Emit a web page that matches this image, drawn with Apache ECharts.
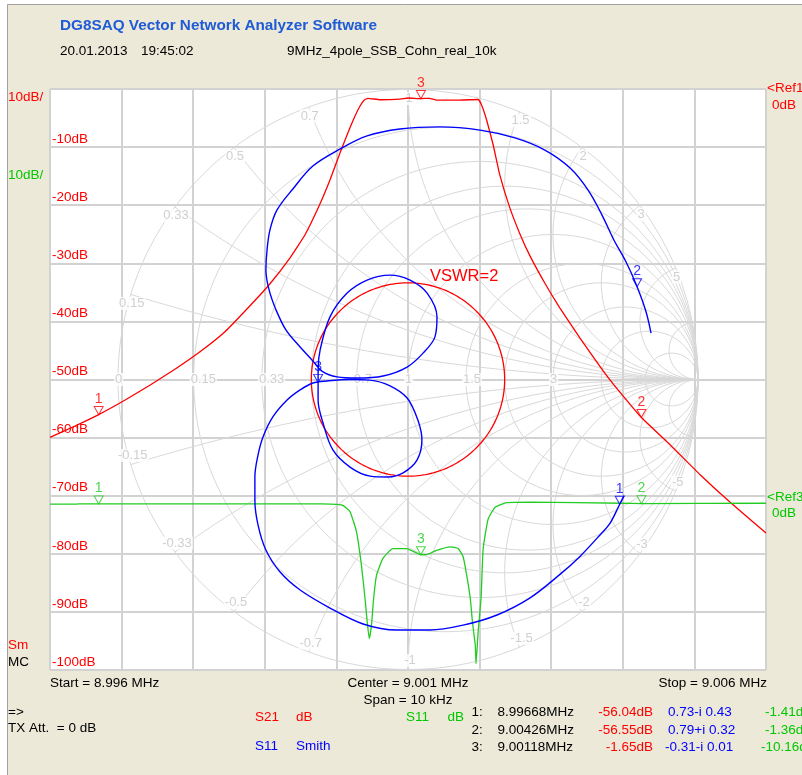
<!DOCTYPE html>
<html>
<head>
<meta charset="utf-8">
<script src="https://cdn.jsdelivr.net/npm/echarts@6/dist/echarts.min.js"></script>
<style>
  html, body { margin: 0; padding: 0; background: #ffffff; }
  #chart { width: 802px; height: 775px; }
</style>
</head>
<body>
<div id="chart"></div>
<script>
const FONT = '"Liberation Sans", Arial, sans-serif';

// Sweep settings (MHz)
const freqStart = 8.996;
const freqStop = 9.006;
const freqStep = 0.001;

// S21 magnitude trace (dB)
const s21Freq = [8.99600, 8.99635, 8.99668, 8.99705, 8.99740, 8.99775, 8.99809, 8.99844, 8.99879, 8.99907,
                 8.99935, 8.99956, 8.99977, 8.99991, 9.00005, 9.00016, 9.00026, 9.00033, 9.00039, 9.00044,
                 9.00061, 9.00089, 9.00100, 9.00118, 9.00130, 9.00140, 9.00173, 9.00198, 9.00203, 9.00210,
                 9.00219, 9.00228, 9.00242, 9.00256, 9.00270, 9.00291, 9.00312, 9.00340, 9.00382, 9.00426,
                 9.00466, 9.00508, 9.00550, 9.00600];
const s21dB = [-59.95, -58.0, -56.04, -53.53, -50.95, -48.19, -45.27, -41.82, -37.35, -33.56,
               -29.09, -25.13, -19.79, -15.66, -11.02, -7.57, -4.65, -2.93, -1.89, -1.6,
               -1.85, -1.75, -1.55, -1.65, -1.6, -1.9, -1.9, -1.81, -2.84, -5.42,
               -9.64, -14.70, -20.38, -24.85, -28.64, -33.39, -37.66, -42.82, -50.05, -56.55,
               -61.22, -66.39, -71.14, -76.40];

// S11 magnitude trace (dB)
const s11Freq = [8.99600, 8.99638, 8.99640, 8.99668, 8.99800, 8.99900, 8.99980, 9.00000, 9.00009, 9.00019,
                 9.00028, 9.00035, 9.00040, 9.00043, 9.00046, 9.00049, 9.00052, 9.00056, 9.00065, 9.00079,
                 9.00098, 9.00118, 9.00126, 9.00140, 9.00159, 9.00170, 9.00177, 9.00182, 9.00187, 9.00190,
                 9.00194, 9.00195, 9.00198, 9.00202, 9.00205, 9.00212, 9.00222, 9.00238, 9.00270, 9.00400,
                 9.00426, 9.00600];
const s11dB = [-1.45, -1.45, -1.40, -1.41, -1.40, -1.40, -1.42, -1.50, -1.67, -2.75,
               -6.2, -12.0, -17.7, -21.7, -24.6, -22.3, -17.7, -13.7, -10.8, -9.1,
               -9.1, -10.16, -10.15, -9.4, -8.8, -9.1, -10.5, -13.7, -17.7, -21.7,
               -25.8, -28.9, -23.4, -17.7, -9.1, -4.0, -1.95, -1.2, -1.1, -1.3,
               -1.36, -1.3];

// S11 reflection coefficient (Smith chart), real and imaginary parts
const s11Re = [0.745, 0.730, 0.697, 0.662, 0.593, 0.524, 0.421, 0.307, 0.190, 0.076,
               -0.038, -0.155, -0.269, -0.372, -0.441, -0.490, -0.517, -0.528, -0.528, -0.517,
               -0.500, -0.466, -0.417, -0.372, -0.328, -0.279, -0.200, -0.131, -0.062, -0.003,
               0.034, 0.048, 0.031, -0.017, -0.069, -0.131, -0.200, -0.259, -0.293, -0.310,
               -0.310, -0.310, -0.303, -0.269, -0.210, -0.141, -0.062, 0.007, 0.066, 0.100,
               0.093, 0.052, -0.003, -0.086, -0.176, -0.245, -0.297, -0.328, -0.372, -0.421,
               -0.455, -0.479, -0.490, -0.486, -0.476, -0.452, -0.397, -0.328, -0.234, -0.141,
               -0.028, 0.110, 0.248, 0.369, 0.472, 0.559, 0.621, 0.669, 0.710, 0.752,
               0.790, 0.821, 0.838];
const s11Im = [-0.400, -0.430, -0.495, -0.536, -0.610, -0.672, -0.753, -0.812, -0.847, -0.864,
               -0.864, -0.843, -0.788, -0.726, -0.664, -0.588, -0.502, -0.416, -0.336, -0.260,
               -0.198, -0.129, -0.071, -0.036, -0.012, -0.005, 0.000, -0.002, -0.022, -0.064,
               -0.140, -0.209, -0.278, -0.322, -0.336, -0.333, -0.302, -0.243, -0.150, -0.071,
               -0.010, 0.033, 0.102, 0.216, 0.298, 0.343, 0.360, 0.343, 0.298, 0.216,
               0.147, 0.091, 0.043, 0.012, 0.005, 0.009, 0.029, 0.064, 0.112, 0.171,
               0.240, 0.309, 0.378, 0.447, 0.516, 0.584, 0.657, 0.736, 0.795, 0.840,
               0.864, 0.871, 0.860, 0.833, 0.791, 0.729, 0.653, 0.567, 0.481, 0.405,
               0.320, 0.233, 0.160];

// Markers
const markerNames = ['1', '2', '3'];
const markerFreq = [8.99668, 9.00426, 9.00118];
const markerS21 = [-56.04, -56.55, -1.65];
const markerS11Re = [0.73, 0.79, -0.31];
const markerS11Im = [-0.43, 0.32, -0.01];
const markerS11dB = [-1.41, -1.36, -10.16];

// Smith chart grid values
const smithR = [0.15, 0.33, 0.5, 0.7, 1, 1.5, 2, 3, 5, 10];
const smithX = [0.15, 0.33, 0.5, 0.7, 1, 1.5, 2, 3, 5, 10];
const smithRLabels = [0, 0.15, 0.33, 0.7, 1, 1.5, 3];
const smithXLabels = [0.15, 0.33, 0.5, 0.7, 1, 1.5, 2, 3, 5];
const vswr = 2;

// ---------- geometry helpers ----------
function gamma(r, x) {
  const d = (r + 1) * (r + 1) + x * x;
  return [(r * r - 1 + x * x) / d, 2 * x / d];
}
function resistanceCircle(r) {
  const c = r / (1 + r), R = 1 / (1 + r), pts = [];
  for (let i = 0; i <= 360; i++) {
    const a = i * Math.PI / 180;
    pts.push([c + R * Math.cos(a), R * Math.sin(a)]);
  }
  return pts;
}
function reactanceArc(x) {
  const pts = [gamma(0, x)];
  for (let i = 0; i <= 200; i++) {
    const r = Math.pow(10, -2.5 + i * 6 / 200);
    pts.push(gamma(r, x));
  }
  return pts;
}

// axis indices of the Smith coordinate system
const SX = 1, SY = 2;

const GRID_LINE = { color: '#d8d8d8', width: 1 };
const smithSeries = [];
function smithLine(pts) {
  smithSeries.push({
    type: 'line', xAxisIndex: SX, yAxisIndex: SY, data: pts, showSymbol: false,
    symbol: 'none', silent: true, z: 1, lineStyle: GRID_LINE, clip: false
  });
}
smithLine(resistanceCircle(0));
smithR.forEach(r => smithLine(resistanceCircle(r)));
smithX.forEach(x => { smithLine(reactanceArc(x)); smithLine(reactanceArc(-x)); });

// grid labels on the Smith chart
const smithLabelData = [];
smithRLabels.forEach(r => {
  smithLabelData.push({ value: [(r - 1) / (r + 1), 0], name: String(r),
    label: { align: 'left', offset: [-4, 0] } });
});
smithXLabels.forEach(x => {
  [1, -1].forEach(s => {
    const g = gamma(0, s * x);
    smithLabelData.push({ value: g, name: String(s * x),
      label: { offset: [s > 0 ? 1 : 2, s > 0 ? 9 : -9] } });
  });
});

// VSWR circle
const vswrRadius = (vswr - 1) / (vswr + 1);
const vswrPts = [];
for (let i = 0; i <= 240; i++) {
  const a = i * Math.PI / 120;
  vswrPts.push([vswrRadius * Math.cos(a), vswrRadius * Math.sin(a)]);
}

const zip = (a, b) => a.map((v, i) => [v, b[i]]);

const TRI = 'path://M0,0L10,0L5,9Z';
function markerSeries(points, color, xi, yi) {
  return {
    type: 'scatter', xAxisIndex: xi, yAxisIndex: yi, z: 6, silent: true,
    symbol: TRI, symbolSize: [9, 8], symbolOffset: [0, -4],
    itemStyle: { color: 'rgba(0,0,0,0)', borderColor: color, borderWidth: 1 },
    label: { show: true, position: 'top', distance: 0, formatter: p => p.name,
      color: color, fontSize: 14, fontFamily: FONT },
    data: points.map((p, i) => ({ value: p, name: markerNames[i] }))
  };
}

// ---------- texts ----------
function txt(x, y, text, color, opt) {
  opt = opt || {};
  const align = opt.align || 'left';
  return {
    type: 'text', x: x, y: y, silent: true, z: 10,
    style: { text: text, fill: color, font: opt.font || ('13.5px ' + FONT),
      align: align, textAlign: align, verticalAlign: 'middle', textVerticalAlign: 'middle' }
  };
}
const RED = '#ff0000', GREEN = '#00c800', BLUE = '#0000ff', BLACK = '#000000';

function fmtGamma(re, im) {
  return re.toFixed(2) + (im < 0 ? '-i ' : '+i ') + Math.abs(im).toFixed(2);
}
const rowY = [712.7, 730, 747.3];
const tableTexts = [];
markerNames.forEach((n, i) => {
  const y = rowY[i];
  tableTexts.push(txt(471.5, y, n + ':', BLACK));
  tableTexts.push(txt(497.5, y, markerFreq[i].toFixed(5) + 'MHz', BLACK));
  tableTexts.push(txt(653, y, markerS21[i].toFixed(2) + 'dB', RED, { align: 'right' }));
  tableTexts.push(txt(i === 2 ? 665 : 668, y, fmtGamma(markerS11Re[i], markerS11Im[i]), BLUE));
  tableTexts.push(txt(i === 2 ? 761 : 765, y, markerS11dB[i].toFixed(2) + 'dB', GREEN));
});

const graphics = [
  { type: 'rect', silent: true, z: 0, shape: { x: 0, y: 0, width: 802, height: 4 }, style: { fill: '#ffffff' } },
  { type: 'rect', silent: true, z: 0, shape: { x: 0, y: 0, width: 7, height: 775 }, style: { fill: '#ffffff' } },
  { type: 'line', silent: true, z: 1, shape: { x1: 7.5, y1: 4.5, x2: 802, y2: 4.5 }, style: { stroke: '#a0a0a0', lineWidth: 1 } },
  { type: 'line', silent: true, z: 1, shape: { x1: 7.5, y1: 4.5, x2: 7.5, y2: 775 }, style: { stroke: '#a0a0a0', lineWidth: 1 } },
  txt(60, 26, 'DG8SAQ Vector Network Analyzer Software', '#1f5bd6', { font: 'bold 15.3px ' + FONT }),
  txt(60, 51, '20.01.2013', BLACK),
  txt(141, 51, '19:45:02', BLACK),
  txt(287, 51, '9MHz_4pole_SSB_Cohn_real_10k', BLACK),
  txt(8, 97, '10dB/', RED),
  txt(8, 175, '10dB/', GREEN),
  txt(767, 88, '<Ref1', RED),
  txt(772, 105, '0dB', RED),
  txt(767, 497, '<Ref3', GREEN),
  txt(772, 513, '0dB', GREEN),
  txt(8, 645, 'Sm', RED),
  txt(8, 662, 'MC', BLACK),
  txt(50, 683, 'Start = 8.996 MHz', BLACK),
  txt(408, 683, 'Center = 9.001 MHz', BLACK, { align: 'center' }),
  txt(408, 700.5, 'Span = 10 kHz', BLACK, { align: 'center' }),
  txt(767, 683, 'Stop = 9.006 MHz', BLACK, { align: 'right' }),
  txt(8, 712.7, '=>', BLACK),
  txt(8, 728.3, 'TX Att.  = 0 dB', BLACK),
  txt(255, 717.3, 'S21', RED),
  txt(296, 717.3, 'dB', RED),
  txt(255, 746.7, 'S11', BLUE),
  txt(296, 746.7, 'Smith', BLUE),
  txt(406, 717.3, 'S11', GREEN),
  txt(447.5, 717.3, 'dB', GREEN),
  txt(430, 276, 'VSWR=' + vswr, RED, { font: '16.5px ' + FONT })
].concat(tableTexts);

const option = {
  animation: false,
  backgroundColor: '#ece9d8',
  textStyle: { fontFamily: FONT },
  grid: [
    { left: 50, top: 89, width: 716, height: 581, show: true, backgroundColor: '#ffffff', borderWidth: 0 },
    { left: 118, top: 89.5, width: 580, height: 580, show: false }
  ],
  xAxis: [
    { type: 'value', gridIndex: 0, min: freqStart, max: freqStop, interval: freqStep,
      axisLine: { show: false }, axisTick: { show: false }, axisLabel: { show: false },
      splitLine: { show: true, lineStyle: { color: '#d2d2d2', width: 2 } } },
    { type: 'value', gridIndex: 1, min: -1, max: 1, show: false }
  ],
  yAxis: [
    { type: 'value', gridIndex: 0, min: -100, max: 0, interval: 10,
      axisLine: { show: false }, axisTick: { show: false },
      axisLabel: { show: true, inside: true, margin: 2, align: 'left', verticalAlign: 'bottom',
        padding: [0, 0, 1, 0], color: RED, fontSize: 13.5, fontFamily: FONT,
        formatter: v => (v === 0 ? '' : v + 'dB') },
      splitLine: { show: true, lineStyle: { color: '#d2d2d2', width: 2 } } },
    { type: 'value', gridIndex: 0, min: -30, max: 70, show: false },
    { type: 'value', gridIndex: 1, min: -1, max: 1, show: false }
  ],
  graphic: graphics,
  series: smithSeries.concat([
    { type: 'scatter', xAxisIndex: SX, yAxisIndex: SY, z: 2, silent: true, symbolSize: 1,
      itemStyle: { color: 'rgba(0,0,0,0)' },
      label: { show: true, position: 'inside', formatter: p => p.name, color: '#c4c4c4',
        fontSize: 13, fontFamily: FONT, backgroundColor: '#ffffff', padding: [0, 1] },
      data: smithLabelData },
    { type: 'line', name: 'VSWR', xAxisIndex: SX, yAxisIndex: SY, data: vswrPts, showSymbol: false,
      symbol: 'none', silent: true, z: 3, lineStyle: { color: RED, width: 1.3 } },
    { type: 'line', name: 'S21 dB', xAxisIndex: 0, yAxisIndex: 0, data: zip(s21Freq, s21dB),
      showSymbol: false, symbol: 'none', smooth: 0.12, z: 4,
      lineStyle: { color: RED, width: 1.3 } },
    { type: 'line', name: 'S11 dB', xAxisIndex: 0, yAxisIndex: 1, data: zip(s11Freq, s11dB),
      showSymbol: false, symbol: 'none', smooth: 0.15, z: 4,
      lineStyle: { color: '#22cc22', width: 1.3 } },
    { type: 'line', name: 'S11 Smith', xAxisIndex: SX, yAxisIndex: SY, data: zip(s11Re, s11Im),
      showSymbol: false, symbol: 'none', smooth: 0.35, z: 4,
      lineStyle: { color: BLUE, width: 1.4 } },
    markerSeries(zip(markerFreq, markerS21), RED, 0, 0),
    markerSeries(zip(markerFreq, markerS11dB), '#22cc22', 0, 1),
    markerSeries(zip(markerS11Re, markerS11Im), BLUE, SX, SY)
  ])
};

const chart = echarts.init(document.getElementById('chart'), null, { renderer: 'canvas' });
chart.setOption(option);
</script>
</body>
</html>
